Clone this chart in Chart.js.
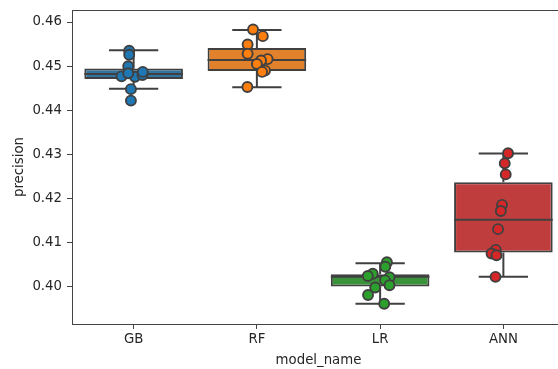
<!DOCTYPE html>
<html>
<head>
<meta charset="utf-8">
<script src="https://cdn.jsdelivr.net/npm/chart.js@4.4.0/dist/chart.umd.min.js"></script>
<style>
  html, body { margin: 0; padding: 0; background: #fff; overflow: hidden; }
  #wrap { width: 580px; height: 369px; }
</style>
</head>
<body>
<div id="wrap"><canvas id="boxChart" width="580" height="369"></canvas></div>
<script>
const categories = ['GB', 'RF', 'LR', 'ANN'];
const yTicks = [0.40, 0.41, 0.42, 0.43, 0.44, 0.45, 0.46];

// box stats
const whiskerLow = [0.4449, 0.4452, 0.3962, 0.4023];
const q1 = [0.4471, 0.4489, 0.4001, 0.4078];
const median = [0.4482, 0.4514, 0.4023, 0.4152];
const q3 = [0.4495, 0.4541, 0.4029, 0.4237];
const whiskerHigh = [0.4536, 0.4582, 0.4054, 0.4302];

// per-fold precision scores (strip points)
const gbScores = [0.4535, 0.4526, 0.4500, 0.4477, 0.4476, 0.4480, 0.4487, 0.4448, 0.4422, 0.4484];
const rfScores = [0.4583, 0.4568, 0.4549, 0.4528, 0.4516, 0.4513, 0.4505, 0.4490, 0.4487, 0.4453];
const lrScores = [0.4056, 0.4046, 0.4030, 0.4025, 0.4022, 0.4015, 0.4004, 0.3999, 0.3982, 0.3962];
const annScores = [0.4303, 0.4280, 0.4255, 0.4186, 0.4172, 0.4131, 0.4084, 0.4076, 0.4072, 0.4023];

// horizontal jitter of each strip point, in category units
const gbJitter = [-0.036, -0.036, -0.044, -0.098, 0.011, 0.072, 0.074, -0.022, -0.022, -0.044];
const rfJitter = [-0.031, 0.048, -0.075, -0.075, 0.087, 0.034, 0.0, 0.066, 0.042, -0.077];
const lrJitter = [0.055, 0.042, -0.060, -0.100, 0.076, 0.040, 0.076, -0.040, -0.098, 0.033];
const annJitter = [0.038, 0.011, 0.019, -0.011, -0.021, -0.043, -0.062, -0.096, -0.056, -0.064];

const scores = [gbScores, rfScores, lrScores, annScores];
const jitters = [gbJitter, rfJitter, lrJitter, annJitter];
const boxColors = ['#3274a1', '#e1812c', '#3a923a', '#c03d3e'];
const pointColors = ['#1f77b4', '#ff7f0e', '#2ca02c', '#d62728'];
const lineGray = '#404040';
const axisFont = { family: 'DejaVu Sans', size: 13.3 };
const textColor = '#262626';

const boxHalf = 0.4;
const capHalf = 0.2;

// whiskers, caps and medians as one broken line
const segments = [];
categories.forEach((c, i) => {
    segments.push({ x: i, y: q3[i] }, { x: i, y: whiskerHigh[i] }, { x: i, y: null });
    segments.push({ x: i - capHalf, y: whiskerHigh[i] }, { x: i + capHalf, y: whiskerHigh[i] }, { x: i, y: null });
    segments.push({ x: i, y: q1[i] }, { x: i, y: whiskerLow[i] }, { x: i, y: null });
    segments.push({ x: i - capHalf, y: whiskerLow[i] }, { x: i + capHalf, y: whiskerLow[i] }, { x: i, y: null });
    segments.push({ x: i - boxHalf, y: median[i] }, { x: i + boxHalf, y: median[i] }, { x: i, y: null });
});

const stripSets = categories.map((c, i) => ({
    type: 'scatter',
    label: c,
    data: scores[i].map((v, k) => ({ x: i + jitters[i][k], y: v })),
    backgroundColor: pointColors[i],
    borderColor: lineGray,
    borderWidth: 1.9,
    pointRadius: 5,
    order: 0,
}));

const framePlugin = {
    id: 'frame',
    beforeDatasetsDraw(chart) {
        const { ctx, chartArea } = chart;
        ctx.save();
        ctx.strokeStyle = '#444';
        ctx.lineWidth = 1;
        ctx.beginPath();
        ctx.moveTo(chartArea.left, chartArea.top + 0.5);
        ctx.lineTo(chartArea.right, chartArea.top + 0.5);
        ctx.lineTo(chartArea.right, chartArea.bottom);
        ctx.stroke();
        ctx.restore();
    },
};

new Chart(document.getElementById('boxChart'), {
    type: 'bar',
    data: {
        datasets: [
            {
                type: 'bar',
                label: 'box',
                data: categories.map((c, i) => ({ x: i, y: [q1[i], q3[i]] })),
                backgroundColor: boxColors,
                borderColor: lineGray,
                borderWidth: 2,
                borderSkipped: false,
                categoryPercentage: 0.8,
                barPercentage: 1,
                order: 2,
            },
            {
                type: 'line',
                label: 'whiskers',
                data: segments,
                borderColor: lineGray,
                borderWidth: 2,
                pointRadius: 0,
                spanGaps: false,
                fill: false,
                order: 1,
            },
            ...stripSets,
        ],
    },
    options: {
        responsive: false,
        animation: false,
        events: [],
        layout: { padding: { top: 10, right: 15, left: 0, bottom: 0 } },
        plugins: { legend: { display: false }, tooltip: { enabled: false } },
        scales: {
            x: {
                type: 'linear',
                min: -0.5,
                max: 3.5,
                offset: false,
                afterBuildTicks: (scale) => { scale.ticks = categories.map((c, i) => ({ value: i })); },
                afterFit: (scale) => {
                    scale.height = 45;
                    scale.paddingLeft = 0;
                    scale.paddingRight = 0;
                },
                ticks: {
                    callback: (v) => categories[v],
                    font: axisFont,
                    color: textColor,
                    padding: 3,
                    maxRotation: 0,
                    autoSkip: false,
                },
                grid: { display: true, offset: false, drawOnChartArea: false, drawTicks: true, tickLength: 5, tickColor: '#444', tickWidth: 1 },
                border: { display: true, color: '#444', width: 1 },
                title: { display: true, text: 'model_name', font: axisFont, color: textColor, padding: { top: 0, bottom: 0 } },
            },
            y: {
                type: 'linear',
                min: 0.39162,
                max: 0.46272,
                afterBuildTicks: (scale) => { scale.ticks = yTicks.map((v) => ({ value: v })); },
                afterFit: (scale) => {
                    scale.width = 72;
                    scale.paddingTop = 0;
                    scale.paddingBottom = 0;
                },
                ticks: {
                    callback: (v) => v.toFixed(2),
                    font: axisFont,
                    color: textColor,
                    padding: 5,
                },
                grid: { display: true, drawOnChartArea: false, drawTicks: true, tickLength: 5, tickColor: '#444', tickWidth: 1 },
                border: { display: true, color: '#444', width: 1 },
                title: { display: true, text: 'precision', font: axisFont, color: textColor, padding: { top: 12, bottom: 0 } },
            },
        },
    },
    plugins: [framePlugin],
});
</script>
</body>
</html>
